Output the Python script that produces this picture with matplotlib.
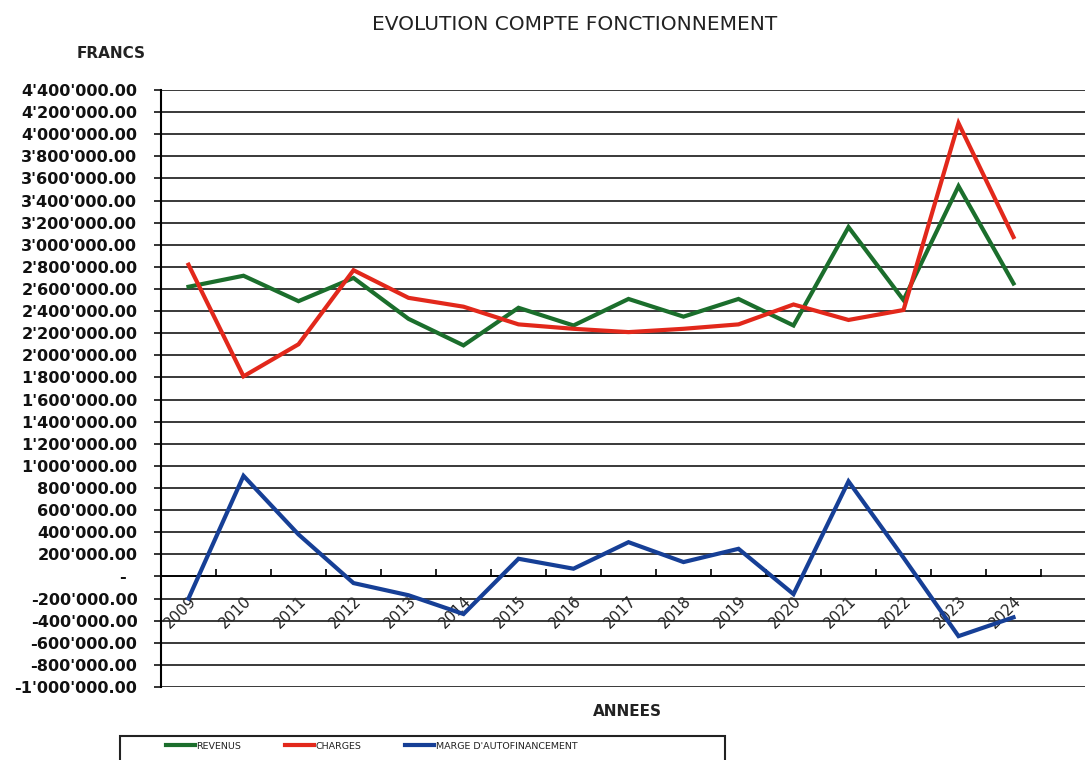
import matplotlib
matplotlib.use("Agg")
import matplotlib.pyplot as plt
import matplotlib.transforms as mtransforms
from matplotlib.ticker import FuncFormatter, FixedLocator
from matplotlib.patches import Rectangle

years = ["2009", "2010", "2011", "2012", "2013", "2014", "2015", "2016",
         "2017", "2018", "2019", "2020", "2021", "2022", "2023", "2024"]
revenus = [2620000, 2720000, 2490000, 2700000, 2330000, 2090000, 2430000, 2270000,
           2510000, 2350000, 2510000, 2270000, 3160000, 2500000, 3530000, 2650000]
charges = [2820000, 1810000, 2100000, 2770000, 2520000, 2440000, 2280000, 2240000,
           2210000, 2240000, 2280000, 2460000, 2320000, 2410000, 4100000, 3070000]
marge = [-200000, 910000, 380000, -60000, -170000, -340000, 160000, 70000,
         310000, 130000, 250000, -160000, 860000, 170000, -540000, -370000]

series_labels = ["REVENUS", "CHARGES", "MARGE D'AUTOFINANCEMENT"]
series_colors = ["#1b6e2c", "#e2281b", "#163f96"]

W, H = 1085, 760
fig = plt.figure(figsize=(W / 100, H / 100), dpi=100)
x0, x1, y0, y1 = 161, 1085, 90, 687
ax = fig.add_axes([x0 / W, 1 - y1 / H, (x1 - x0) / W, (y1 - y0) / H])

xs = list(range(len(years)))
for vals, lab, col in zip([revenus, charges, marge], series_labels, series_colors):
    ax.plot(xs, vals, color=col, lw=3.0, label=lab, solid_joinstyle="miter", zorder=3)

ax.set_xlim(-0.5, 16.3)
ax.set_ylim(-1000000, 4400000)

yt = list(range(-1000000, 4400001, 200000))
ax.yaxis.set_major_locator(FixedLocator(yt))

def fmt(v, pos):
    if abs(v) < 1:
        return "-"
    return f"{v:,.2f}".replace(",", "'")

ax.yaxis.set_major_formatter(FuncFormatter(fmt))
ax.grid(axis="y", color="#2a2a2a", lw=1.3, zorder=1)
ax.set_axisbelow(True)
ax.tick_params(axis="y", length=5, width=1.2, pad=12, labelsize=11.6, colors="#111111")
for t in ax.get_yticklabels():
    t.set_fontweight("bold")

for s in ["top", "right"]:
    ax.spines[s].set_visible(False)
ax.spines["left"].set_linewidth(1.5)
ax.spines["bottom"].set_position(("data", 0))
ax.spines["bottom"].set_linewidth(1.3)
ax.spines["bottom"].set_bounds(-0.5, 15.5)

ax.set_xticks(xs)
ax.set_xticklabels(years)
ax.set_xticks([i + 0.5 for i in range(-1, 16)], minor=True)
ax.tick_params(axis="x", which="major", length=0, pad=12, labelsize=11)
ax.tick_params(axis="x", which="minor", length=5, width=1.2, direction="in")
for t in ax.get_xticklabels():
    t.set_rotation(45)
    t.set_ha("right")
    t.set_va("top")
    t.set_rotation_mode("anchor")
    t.set_color("#222222")

fig.canvas.draw()
for t in ax.get_yticklabels():
    if t.get_text() == "-":
        t.set_transform(t.get_transform() + mtransforms.ScaledTranslation(-12 / 100, 0, fig.dpi_scale_trans))

fig.text(575 / W, 1 - 25 / H, "EVOLUTION COMPTE FONCTIONNEMENT", ha="center", va="center",
         fontsize=14.5, color="#222222")
fig.text(111 / W, 1 - 53 / H, "FRANCS", ha="center", va="center", fontsize=11,
         fontweight="bold", color="#222222")
fig.text(627 / W, 1 - 712 / H, "ANNEES", ha="center", va="center", fontsize=11,
         fontweight="bold", color="#222222")

# legend box (cut at the bottom of the image)
fig.patches.append(Rectangle((120 / W, -0.02), (725 - 120) / W, 0.02 + (760 - 736) / H,
                             transform=fig.transFigure, fill=False, edgecolor="#222222",
                             lw=1.5))
leg = fig.legend(loc="upper left", bbox_to_anchor=(162 / W, 1 - 738 / H), ncol=3,
                 frameon=False, fontsize=6.8, handlelength=3.1, handletextpad=0.15,
                 columnspacing=4.6, borderaxespad=0)
for t in leg.get_texts():
    t.set_color("#222222")

fig.savefig("out.png", dpi=100)
